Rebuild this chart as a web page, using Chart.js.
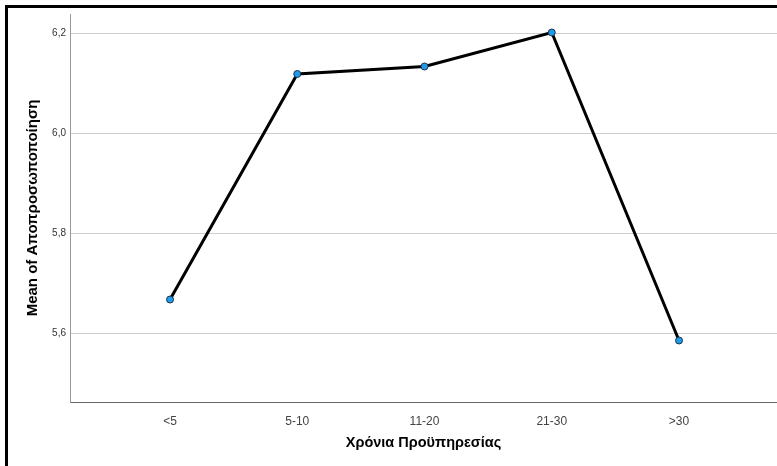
<!DOCTYPE html>
<html lang="el">
<head>
  <meta charset="UTF-8" />
  <title>Mean of Αποπροσωποποίηση</title>
  <script src="https://cdn.jsdelivr.net/npm/chart.js"></script>
  <style>
    html, body { margin: 0; padding: 0; background: #fff; overflow: hidden; }
    #wrap { position: relative; width: 777px; height: 466px; }
    #frame {
      position: absolute; left: 5px; top: 5px; width: 820px; height: 520px;
      border: 3px solid #000; pointer-events: none;
    }
  </style>
</head>
<body>
  <div id="wrap">
    <canvas id="chart" width="777" height="466"></canvas>
    <div id="frame"></div>
  </div>

  <script>
    // categories and means
    const categories = ["<5", "5-10", "11-20", "21-30", ">30"];
    const means = [5.667, 6.118, 6.133, 6.201, 5.585];
    const yTicks = [5.6, 5.8, 6.0, 6.2];

    const ctx = document.getElementById("chart").getContext("2d");

    new Chart(ctx, {
      type: 'line',
      data: {
        datasets: [{
          data: means.map((v, i) => ({ x: i, y: v })),
          borderColor: "#000",
          borderWidth: 3,
          tension: 0,
          pointRadius: 3.5,
          pointBackgroundColor: "#1f9be8",
          pointBorderColor: "#1b3450",
          pointBorderWidth: 1
        }]
      },
      options: {
        responsive: false,
        animation: false,
        layout: { autoPadding: false, padding: { left: 20, top: 14, right: 0, bottom: 10 } },
        plugins: { legend: { display: false }, tooltip: { enabled: false } },
        scales: {
          x: {
            type: 'linear',
            min: -0.786,
            max: 4.77,
            afterBuildTicks: s => { s.ticks = categories.map((c, i) => ({ value: i })); },
            afterFit: s => { s.height = 54; },
            grid: { display: false },
            border: { display: true, color: "#666", width: 1 },
            ticks: {
              callback: v => categories[v],
              color: "#444",
              font: { family: "Arial, 'Liberation Sans'", size: 12 },
              padding: 4,
              maxRotation: 0
            },
            title: {
              display: true,
              text: "Χρόνια Προϋπηρεσίας",
              color: "#000",
              font: { family: "Arial, 'Liberation Sans'", size: 14.5, weight: "bold" },
              padding: { top: 4, bottom: 4 }
            }
          },
          y: {
            min: 5.462,
            max: 6.238,
            afterBuildTicks: s => { s.ticks = yTicks.map(v => ({ value: v })); },
            afterFit: s => { s.width = 50; },
            grid: { color: "#cfcfcf", lineWidth: 1, drawTicks: false },
            border: { display: true, color: "#999", width: 1 },
            ticks: {
              callback: v => v.toFixed(1).replace(".", ","),
              color: "#333",
              font: { family: "Arial, 'Liberation Sans'", size: 10 },
              padding: 4
            },
            title: {
              display: true,
              text: "Mean of Αποπροσωποποίηση",
              color: "#000",
              font: { family: "Arial, 'Liberation Sans'", size: 15, weight: "bold" },
              padding: { top: 4, bottom: 4 }
            }
          }
        }
      }
    });
  </script>
</body>
</html>
